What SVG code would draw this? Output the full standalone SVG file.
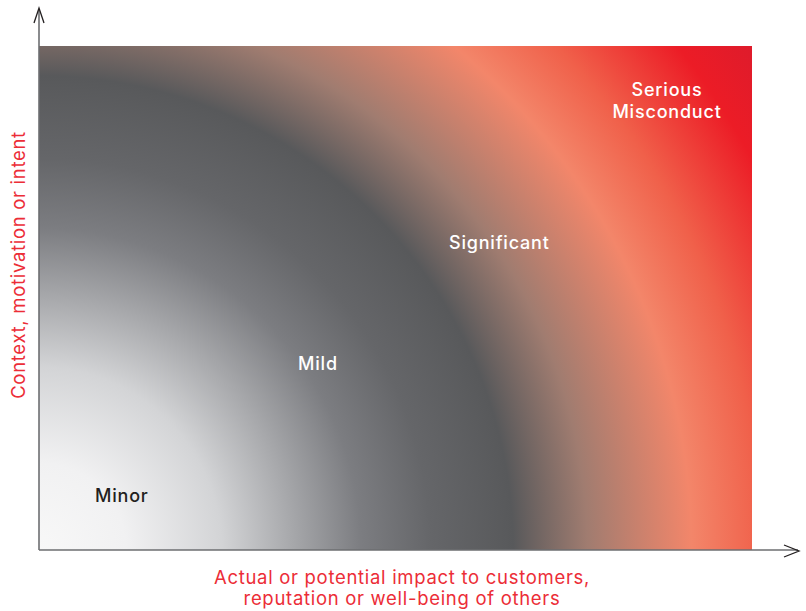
<svg xmlns="http://www.w3.org/2000/svg" width="806" height="611" viewBox="0 0 806 611">
<style>
.lbl{font-family:Inter,"Noto Sans","Liberation Sans",sans-serif;font-size:18px;font-weight:500;letter-spacing:0.8px}
.w{fill:#ffffff}
.axis{font-family:Inter,"Noto Sans","Liberation Sans",sans-serif;font-size:18.5px;letter-spacing:0.7px;fill:#ec2d37}
.ax{stroke:#6d6e71;stroke-width:1.6;fill:none}
.head{stroke:#231f20;stroke-width:1.3;fill:none}
</style>
<defs>
<radialGradient id="g" gradientUnits="userSpaceOnUse" cx="39" cy="550" r="870">
<stop offset="0" stop-color="#f8f8f8"/>
<stop offset="0.10" stop-color="#f1f1f2"/>
<stop offset="0.21" stop-color="#d3d4d6"/>
<stop offset="0.37" stop-color="#7c7d81"/>
<stop offset="0.45" stop-color="#656669"/>
<stop offset="0.545" stop-color="#58595b"/>
<stop offset="0.63" stop-color="#a07c70"/>
<stop offset="0.75" stop-color="#f3866a"/>
<stop offset="0.83" stop-color="#f0604a"/>
<stop offset="0.935" stop-color="#ec1c26"/>
<stop offset="1" stop-color="#df1b2b"/>
</radialGradient>
</defs>
<g id="field"><rect x="39" y="46" width="713" height="504" fill="url(#g)"/></g>
<g id="connectors">
<line class="ax" x1="39" y1="9" x2="39" y2="550"/>
<line class="ax" x1="39" y1="550" x2="798" y2="550"/>
<polyline class="head" points="34,23 39,8 44,23"/>
<polyline class="head" points="784,545 799,551 784,557"/>
</g>
<g id="minor"><text class="lbl" x="95" y="502" fill="#231f20">Minor</text></g>
<g id="mild"><text class="lbl w" x="298" y="370">Mild</text></g>
<g id="significant"><text class="lbl w" x="449" y="249">Significant</text></g>
<g id="serious"><text class="lbl w" text-anchor="middle" x="667" y="96">Serious</text><text class="lbl w" text-anchor="middle" x="667" y="118">Misconduct</text></g>
<g id="xlabel"><text class="axis" text-anchor="middle" x="402" y="584">Actual or potential impact to customers,</text><text class="axis" text-anchor="middle" x="402" y="605">reputation or well-being of others</text></g>
<g id="ylabel"><text class="axis" text-anchor="middle" transform="translate(25,265) rotate(-90)">Context, motivation or intent</text></g>
</svg>
